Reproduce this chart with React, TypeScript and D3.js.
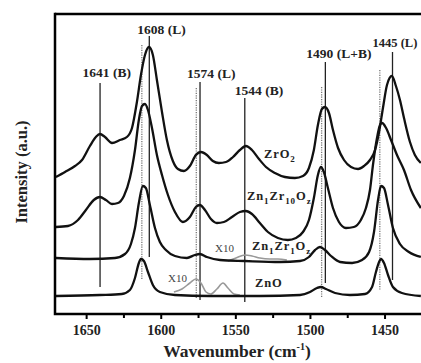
import React from 'react'
import * as d3 from 'd3'

// spectra: [wavenumber (cm-1), intensity (a.u.)]
const zro2: [number, number][] = [
  [1670.6, 137], [1664.5, 142], [1657.8, 148], [1653.1, 154], [1647.8, 168], [1643.8, 177],
  [1641.1, 180], [1637.7, 177], [1633.0, 171], [1627.7, 174], [1623.0, 177], [1619.6, 186],
  [1616.3, 212], [1613.6, 239], [1610.9, 259], [1608.2, 267], [1605.6, 259], [1602.9, 234],
  [1599.5, 202], [1596.2, 174], [1592.2, 153], [1588.8, 145], [1584.8, 143], [1580.8, 148],
  [1576.8, 159], [1573.4, 162], [1569.4, 159], [1565.4, 153], [1561.4, 151], [1556.6, 152],
  [1551.9, 157], [1547.3, 164], [1543.3, 168], [1539.2, 164], [1534.5, 155], [1529.8, 147],
  [1523.8, 141], [1517.1, 137], [1510.4, 136], [1505.0, 138], [1501.0, 146], [1497.7, 164],
  [1495.0, 189], [1492.3, 205], [1490.2, 207], [1487.6, 201], [1484.9, 184], [1481.5, 166],
  [1477.5, 154], [1472.8, 147], [1468.1, 145], [1464.1, 148], [1460.1, 154], [1456.7, 164],
  [1454.0, 182], [1451.4, 206], [1448.7, 229], [1445.4, 238], [1442.7, 228], [1440.0, 214],
  [1437.3, 196], [1433.3, 172], [1430.0, 159], [1426.0, 151],
]

const zn1zr10: [number, number][] = [
  [1670.6, 87], [1662.5, 88], [1655.8, 94], [1650.5, 104], [1645.2, 114], [1641.1, 117],
  [1637.1, 114], [1633.0, 110], [1629.0, 111], [1625.0, 118], [1621.0, 136], [1617.6, 164],
  [1615.0, 194], [1612.9, 208], [1610.9, 210], [1608.9, 204], [1606.2, 186], [1602.9, 159],
  [1599.5, 139], [1595.5, 119], [1590.8, 102], [1585.5, 92], [1580.8, 97], [1576.8, 107],
  [1574.1, 109], [1570.7, 104], [1566.7, 95], [1562.7, 91], [1558.0, 92], [1552.6, 97],
  [1547.3, 102], [1543.3, 103], [1539.2, 100], [1533.9, 91], [1528.5, 82], [1521.8, 76],
  [1515.1, 74], [1509.7, 76], [1505.0, 82], [1501.0, 94], [1497.7, 116], [1495.0, 139],
  [1493.0, 147], [1491.0, 142], [1488.3, 126], [1484.9, 106], [1480.9, 92], [1476.2, 86],
  [1470.9, 87], [1466.2, 94], [1462.8, 106], [1460.1, 124], [1458.1, 149], [1455.4, 176],
  [1453.4, 189], [1452.0, 191], [1449.3, 186], [1446.0, 174], [1442.0, 159], [1437.3, 144],
  [1432.6, 124], [1426.0, 106],
]

const zn1zr1: [number, number][] = [
  [1670.6, 56], [1647.8, 55], [1631.0, 56], [1624.3, 60], [1620.3, 70], [1617.6, 86],
  [1615.0, 111], [1612.3, 128], [1610.3, 126], [1607.6, 109], [1604.2, 86], [1600.9, 72],
  [1596.9, 64], [1590.8, 58], [1582.8, 56], [1577.5, 59], [1574.1, 60], [1569.4, 57],
  [1560.6, 54], [1543.9, 53], [1520.4, 52], [1507.0, 53], [1501.0, 57], [1496.9, 64],
  [1493.6, 67], [1490.2, 64], [1486.2, 58], [1480.1, 52], [1472.1, 51], [1465.4, 54],
  [1460.7, 62], [1457.4, 82], [1454.7, 114], [1452.7, 128], [1450.7, 126], [1448.0, 109],
  [1444.7, 86], [1440.0, 70], [1434.0, 62], [1426.0, 57],
]

const zno: [number, number][] = [
  [1670.6, 18], [1641.1, 19], [1626.4, 20], [1621.0, 24], [1617.6, 36], [1615.0, 51],
  [1613.6, 55], [1611.6, 53], [1608.9, 42], [1605.6, 29], [1600.9, 22], [1590.8, 19],
  [1567.4, 18], [1533.9, 18], [1507.0, 19], [1500.3, 22], [1495.6, 26], [1492.9, 27],
  [1489.6, 25], [1483.5, 21], [1473.5, 19], [1463.4, 20], [1458.7, 27], [1456.1, 42],
  [1454.0, 52], [1452.7, 55], [1450.7, 51], [1448.0, 39], [1444.7, 27], [1438.7, 21],
  [1426.0, 18],
]

// x10 magnified insets (grey)
const znoX10: [number, number][] = [
  [1591.5, 22], [1586.1, 25], [1580.8, 31], [1576.8, 35], [1573.4, 31], [1570.0, 22],
  [1566.7, 20], [1562.7, 25], [1558.6, 31], [1555.3, 26], [1551.3, 20], [1547.3, 19],
]
const zn1zr1X10: [number, number][] = [
  [1555.3, 53], [1549.9, 56], [1543.9, 59], [1539.2, 58], [1533.9, 56], [1527.2, 55],
  [1521.8, 55], [1515.8, 54],
]

// assigned bands: [wavenumber, label, top, bottom]
const bands: [number, string, number, number][] = [
  [1641, '1641 (B)', 231, 27],
  [1608, '1608 (L)', 278, 57],
  [1574, '1574 (L)', 232, 14],
  [1544, '1544 (B)', 216, 12],
  [1490, '1490 (L+B)', 252, 31],
  [1445, '1445 (L)', 262, 34],
]
// dotted guide lines: [wavenumber, top, bottom]
const guides: [number, number, number][] = [
  [1613, 269, 34],
  [1576.5, 226, 15],
  [1492.5, 227, 17],
  [1453.5, 244, 24],
]

const majorTicks = [1650, 1600, 1550, 1500, 1450]
const minorTicks = [1625, 1575, 1525, 1475]

const W = 421
const H = 363
const left = 55
const top = 14
const bottom = 314

const serif = '"Liberation Serif", "Times New Roman", serif'

export default function App() {
  const x = d3.scaleLinear().domain([1671.2, 1425.9]).range([left, W])
  const y = d3.scaleLinear().domain([0, 300]).range([bottom, top])
  const line = d3.line<[number, number]>()
    .x(d => x(d[0]))
    .y(d => y(d[1]))
    .curve(d3.curveMonotoneX)

  const labelDx = [-17.5, -12, -13, -10, -19, -20]
  const labelY = [77, 34, 78, 95, 58, 47]

  return (
    <svg width={W} height={H} style={{ position: 'absolute', left: 0, top: 0, background: '#fff' }}
      fontFamily={serif} fontWeight="bold">
      {guides.map(([w, t, b], i) => (
        <line key={'g' + i} x1={x(w)} x2={x(w)} y1={y(t)} y2={y(b)}
          stroke="#777" strokeWidth={1.3} strokeDasharray="1.2,1.2" />
      ))}
      {bands.map(([w, , t, b], i) => (
        <line key={'b' + i} x1={x(w)} x2={x(w)} y1={y(t)} y2={y(b)}
          stroke="#222" strokeWidth={1.3} />
      ))}

      <path d={line(znoX10) || ''} fill="none" stroke="#999" strokeWidth={1.6} />
      <path d={line(zn1zr1X10) || ''} fill="none" stroke="#999" strokeWidth={1.6} />

      {[zro2, zn1zr10, zn1zr1, zno].map((s, i) => (
        <path key={'s' + i} d={line(s) || ''} fill="none" stroke="#111" strokeWidth={2.3}
          strokeLinejoin="round" />
      ))}

      {bands.map(([w, label], i) => (
        <text key={'t' + i} x={x(w) + labelDx[i]} y={labelY[i]} fontSize={i === 5 ? 12.5 : 13.5} fill="#222">{label}</text>
      ))}

      <g fontSize={12.5} fill="#222" letterSpacing={0.9}>
        <text x={264} y={158}>ZrO<tspan dy={4} fontSize={9}>2</tspan></text>
        <text x={247} y={200}>Zn<tspan dy={4} fontSize={9}>1</tspan><tspan dy={-4}>Zr</tspan><tspan dy={4} fontSize={9}>10</tspan><tspan dy={-4}>O</tspan><tspan dy={4} fontSize={9}>z</tspan></text>
        <text x={252} y={250}>Zn<tspan dy={4} fontSize={9}>1</tspan><tspan dy={-4}>Zr</tspan><tspan dy={4} fontSize={9}>1</tspan><tspan dy={-4}>O</tspan><tspan dy={4} fontSize={9}>z</tspan></text>
        <text x={255} y={287}>ZnO</text>
      </g>
      <g fontSize={11} fill="#444" fontWeight="normal">
        <text x={215} y={252}>X10</text>
        <text x={168} y={282}>X10</text>
      </g>

      <path d={`M${left},${top}H${W + 2}`} stroke="#000" strokeWidth={2.5} fill="none" />
      <path d={`M${left},${top - 1.2}V${bottom}H${W + 2}`} stroke="#000" strokeWidth={2.5} fill="none" />
      {majorTicks.map(t => (
        <g key={'M' + t}>
          <line x1={x(t)} x2={x(t)} y1={bottom} y2={bottom + 5} stroke="#000" strokeWidth={2} />
          <text x={x(t)} y={335} textAnchor="middle" fontSize={14} fill="#222">{t}</text>
        </g>
      ))}
      {minorTicks.map(t => (
        <line key={'m' + t} x1={x(t)} x2={x(t)} y1={bottom} y2={bottom + 4} stroke="#000" strokeWidth={2} />
      ))}

      <text x={237} y={357} textAnchor="middle" fontSize={17.5} fill="#222">
        Wavenumber (cm<tspan dy={-7} fontSize={10}>-1</tspan><tspan dy={7}>)</tspan>
      </text>
      <text transform="translate(27,172) rotate(-90)" textAnchor="middle" fontSize={16.5} fill="#222">
        Intensity (a.u.)
      </text>
    </svg>
  )
}
